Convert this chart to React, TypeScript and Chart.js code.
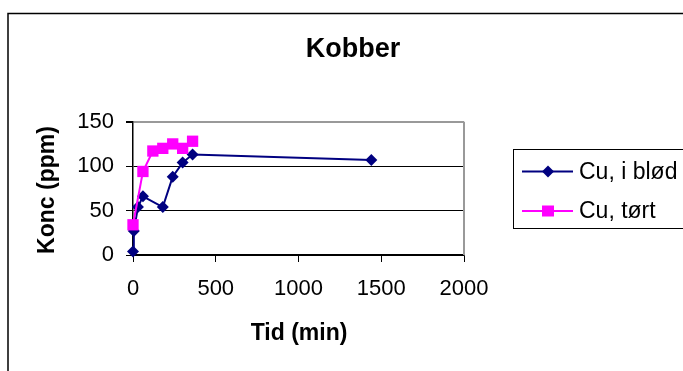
import React, { useEffect, useRef } from "react";
import { Chart, registerables } from "chart.js";

Chart.register(...registerables);

const chartTitle = "Kobber";
const xTitle = "Tid (min)";
const yTitle = "Konc (ppm)";

const seriesNames = ["Cu, i blød", "Cu, tørt"];

const bloedTimes = [0, 5, 30, 60, 180, 240, 300, 360, 1440];
const bloedValues = [4, 27, 54, 66, 54, 88, 104, 113, 107];

const toertTimes = [0, 60, 120, 180, 240, 300, 360];
const toertValues = [34, 94, 117, 120, 125, 120, 128];

const xTicks = [0, 500, 1000, 1500, 2000];
const yTicks = [0, 50, 100, 150];

const FONT = "'Liberation Sans', Arial, sans-serif";

const decorPlugin = {
  id: "decor",
  beforeDraw(chart: any) {
    const ctx = chart.ctx;
    ctx.save();
    ctx.fillStyle = "#ffffff";
    ctx.fillRect(0, 0, chart.width, chart.height);
    ctx.restore();
  },
  afterDraw(chart: any) {
    const ctx = chart.ctx;
    const { chartArea } = chart;
    ctx.save();
    // outer frame
    ctx.strokeStyle = "#000000";
    ctx.lineWidth = 1.5;
    ctx.beginPath();
    ctx.moveTo(8, chart.height + 5);
    ctx.lineTo(8, 13.5);
    ctx.lineTo(chart.width + 5, 13.5);
    ctx.stroke();

    // plot-area right border
    ctx.strokeStyle = "#999999";
    ctx.lineWidth = 2;
    ctx.beginPath();
    ctx.moveTo(chartArea.right, chartArea.top);
    ctx.lineTo(chartArea.right, chartArea.bottom);
    ctx.stroke();

    // title
    ctx.fillStyle = "#000000";
    ctx.textAlign = "center";
    ctx.textBaseline = "middle";
    ctx.font = `bold 27px ${FONT}`;
    ctx.fillText(chartTitle, 353, 50);

    // axis titles
    ctx.font = `bold 23px ${FONT}`;
    ctx.fillText(xTitle, 299, 334);
    ctx.save();
    ctx.translate(48, 190);
    ctx.rotate(-Math.PI / 2);
    ctx.fillText(yTitle, 0, 0);
    ctx.restore();

    // legend
    ctx.strokeStyle = "#000000";
    ctx.lineWidth = 1;
    ctx.strokeRect(513.5, 149.5, 200, 79);
    const rows = [171.5, 211];
    chart.data.datasets.forEach((ds: any, i: number) => {
      const y = rows[i];
      ctx.strokeStyle = ds.borderColor;
      ctx.lineWidth = 2;
      ctx.beginPath();
      ctx.moveTo(522, y);
      ctx.lineTo(573, y);
      ctx.stroke();
      ctx.fillStyle = ds.pointBackgroundColor;
      if (ds.pointStyle === "rectRot") {
        ctx.beginPath();
        ctx.moveTo(548, y - 6);
        ctx.lineTo(554, y);
        ctx.lineTo(548, y + 6);
        ctx.lineTo(542, y);
        ctx.closePath();
        ctx.fill();
      } else {
        ctx.fillRect(542, y - 5.5, 12, 11);
      }
      ctx.fillStyle = "#000000";
      ctx.textAlign = "left";
      ctx.textBaseline = "middle";
      ctx.font = `23px ${FONT}`;
      ctx.fillText(ds.label, 579, y + 1);
    });
    ctx.restore();
  },
};

export default function App() {
  const ref = useRef<HTMLCanvasElement | null>(null);

  useEffect(() => {
    if (!ref.current) return;
    const chart = new Chart(ref.current, {
      type: "line",
      data: {
        datasets: [
          {
            label: seriesNames[0],
            data: bloedTimes.map((t, i) => ({ x: t, y: bloedValues[i] })),
            borderColor: "#000080",
            backgroundColor: "#000080",
            pointBackgroundColor: "#000080",
            pointBorderColor: "#000080",
            pointStyle: "rectRot",
            pointRadius: 6,
            pointBorderWidth: 0,
            borderWidth: 2,
            tension: 0,
            clip: false,
            order: 2,
          },
          {
            label: seriesNames[1],
            data: toertTimes.map((t, i) => ({ x: t, y: toertValues[i] })),
            borderColor: "#FF00FF",
            backgroundColor: "#FF00FF",
            pointBackgroundColor: "#FF00FF",
            pointBorderColor: "#FF00FF",
            pointStyle: "rect",
            pointRadius: 8,
            pointBorderWidth: 0,
            borderWidth: 2,
            tension: 0,
            clip: false,
            order: 1,
          },
        ],
      },
      options: {
        responsive: false,
        animation: false,
        layout: { padding: { left: 0, right: 219, top: 121.7, bottom: 0 } },
        plugins: {
          legend: { display: false },
          title: { display: false },
          tooltip: { enabled: false },
        },
        scales: {
          x: {
            type: "linear",
            min: 0,
            max: 2000,
            afterFit: (s: any) => {
              s.height = 116;
            },
            afterBuildTicks: (s: any) => {
              s.ticks = xTicks.map((v) => ({ value: v }));
            },
            ticks: {
              color: "#000000",
              font: { family: FONT, size: 22 },
              padding: 14,
              maxRotation: 0,
              autoSkip: false,
              callback: (v: any) => String(v),
            },
            grid: {
              drawOnChartArea: false,
              drawTicks: true,
              tickLength: 7,
              tickColor: "#000000",
              lineWidth: 1,
            },
            border: { color: "#000000", width: 1.5 },
          },
          y: {
            type: "linear",
            min: 0,
            max: 150,
            afterFit: (s: any) => {
              s.width = 133;
            },
            afterBuildTicks: (s: any) => {
              s.ticks = yTicks.map((v) => ({ value: v }));
            },
            ticks: {
              color: "#000000",
              font: { family: FONT, size: 22 },
              padding: 12,
              autoSkip: false,
              callback: (v: any) => String(v),
            },
            grid: {
              drawTicks: true,
              tickLength: 7,
              tickColor: "#000000",
              color: (c: any) => (c.tick && c.tick.value === 150 ? "#999999" : "#000000"),
              lineWidth: (c: any) => (c.tick && c.tick.value === 150 ? 2 : 1),
            },
            border: { color: "#000000", width: 1.5 },
          },
        },
      },
      plugins: [decorPlugin],
    } as any);
    return () => chart.destroy();
  }, []);

  return (
    <div style={{ position: "absolute", left: 0, top: 0, width: 683, height: 371 }}>
      <canvas ref={ref} width={683} height={371} style={{ display: "block" }} />
    </div>
  );
}
